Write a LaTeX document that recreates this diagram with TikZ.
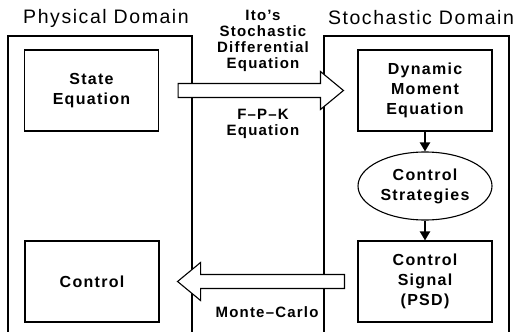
\documentclass[tikz,border=0pt]{standalone}
\usepackage{fontspec}
\setmainfont{Liberation Sans}[LetterSpace=8]
\usepackage{tikz}
\usetikzlibrary{arrows.meta, shapes.geometric}

\begin{document}
\begin{tikzpicture}[x=1pt, y=-1pt,
    domainline/.style={line width=1.1pt},
    block/.style={draw, line width=1.1pt, minimum width=134pt, minimum height=81pt, align=center, font=\fontsize{16}{20}\selectfont\bfseries},
    title/.style={font=\fontsize{19.5}{22}\selectfont},
    lab/.style={align=center, font=\fontsize{15}{16}\selectfont\bfseries},
    fatarrow/.style={draw, fill=white, line width=1.1pt, line join=miter},
    flow/.style={line width=2pt, -{Triangle[length=9pt, width=10pt]}}]
    \useasboundingbox (0,0) rectangle (525,332);
    % domains, open at the bottom
    \draw[domainline] (8,332) -- (8,36) -- (192,36) -- (192,332);
    \draw[domainline] (324,332) -- (324,36) -- (509,36) -- (509,332);
    \node[title] (phys) at (106,18) {Physical Domain};
    \node[title] (stoch) at (421,18) {Stochastic Domain};
    % blocks
    \node[block] (se) at (91.5,90.5) {State\\Equation};
    \node[block] (ctrl) at (92,281.5) {Control};
    \node[block] (dme) at (425,90.5) {Dynamic\\Moment\\Equation};
    \node[draw, ellipse, line width=1.1pt, minimum width=134pt, minimum height=68pt, inner sep=0pt, align=center, font=\fontsize{16}{20}\selectfont\bfseries] (cstr) at (425,186) {Control\\Strategies};
    \node[block] (cs) at (425,281.5) {Control\\Signal\\(PSD)};
    \draw[flow] (dme) -- (cstr);
    \draw[flow] (cstr) -- (cs);
    % hollow arrows between the domains
    \coordinate (ra0) at ([xshift=19pt]se.east);
    \coordinate (ra1) at ([xshift=-14pt]dme.west);
    \draw[fatarrow] ([yshift=-7pt]ra0) -- ([xshift=-23pt,yshift=-7pt]ra1) -- ([xshift=-23pt,yshift=-19pt]ra1) -- (ra1)
        -- ([xshift=-23pt,yshift=19pt]ra1) -- ([xshift=-23pt,yshift=7pt]ra1) -- ([yshift=7pt]ra0) -- cycle;
    \coordinate (la0) at ([xshift=-13pt]cs.west);
    \coordinate (la1) at ([xshift=18pt]ctrl.east);
    \draw[fatarrow] ([yshift=-7pt]la0) -- ([xshift=23pt,yshift=-7pt]la1) -- ([xshift=23pt,yshift=-19pt]la1) -- (la1)
        -- ([xshift=23pt,yshift=19pt]la1) -- ([xshift=23pt,yshift=7pt]la1) -- ([yshift=7pt]la0) -- cycle;
    % labels
    \node[lab] (ito) at (263,40.5) {Ito's\\Stochastic\\Differential\\Equation};
    \node[lab] (fpk) at (263,123.5) {F--P--K\\Equation};
    \node[lab, anchor=east] (mc) at (322,312) {Monte--Carlo};
\end{tikzpicture}
\end{document}
